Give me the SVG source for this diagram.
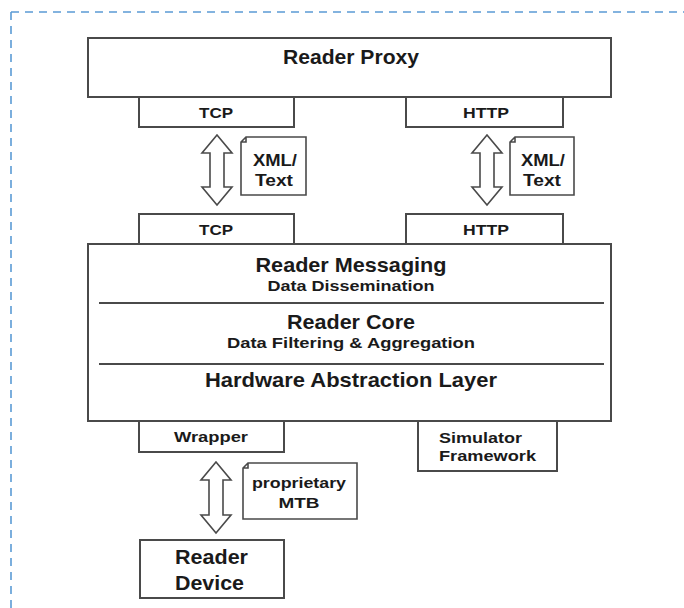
<svg xmlns="http://www.w3.org/2000/svg" width="684" height="608" viewBox="0 0 684 608">
<style>
.box{fill:#fff;stroke:#4a4a4a;stroke-width:2}
.ln{stroke:#4a4a4a;stroke-width:2;fill:none}
.t{font-family:"Liberation Sans",Arial,sans-serif;font-weight:bold;fill:#1a1a1a;text-anchor:middle}
.big{font-size:20.5px}
.sm{font-size:15px}
.md{font-size:15.5px}
.nt{font-size:16.5px}
.arrow{fill:#fff;stroke:#4a4a4a;stroke-width:1.6;stroke-linejoin:miter}
.note{fill:#fff;stroke:#4a4a4a;stroke-width:1.6}
</style>
<rect width="684" height="608" fill="#fff"/>
<g id="frame">
<path d="M11,12 H684 M11,12 V608" stroke="#5b9bd5" stroke-width="1.6" stroke-dasharray="8,6" fill="none"/>
</g>
<g id="reader-proxy">
<rect class="box" x="88" y="38" width="523" height="59"/>
<text class="t big" x="351" y="64" textLength="136" lengthAdjust="spacingAndGlyphs">Reader Proxy</text>
</g>
<g id="tcp-top">
<rect class="box" x="139" y="97" width="155" height="30"/>
<text class="t sm" x="216" y="118" textLength="34" lengthAdjust="spacingAndGlyphs">TCP</text>
</g>
<g id="http-top">
<rect class="box" x="406" y="97" width="157" height="30"/>
<text class="t sm" x="486" y="118" textLength="46" lengthAdjust="spacingAndGlyphs">HTTP</text>
</g>
<g id="connectors">
<path class="arrow" d="M217,135 L232,153 L224,153 L224,187 L232,187 L217,205 L202,187 L210,187 L210,153 L202,153 Z"/>
<path class="arrow" d="M487,135 L502,153 L494,153 L494,187 L502,187 L487,205 L472,187 L480,187 L480,153 L472,153 Z"/>
<path class="arrow" d="M216,462 L231,480 L223,480 L223,515 L231,515 L216,533 L201,515 L209,515 L209,480 L201,480 Z"/>
</g>
<g id="note-xml-left">
<path class="note" d="M246,137 H306 V195 H241 V142 Z M241,142 H246 V137"/>
<text class="t nt" x="275" y="166" textLength="44" lengthAdjust="spacingAndGlyphs">XML/</text>
<text class="t nt" x="274" y="186" textLength="38" lengthAdjust="spacingAndGlyphs">Text</text>
</g>
<g id="note-xml-right">
<path class="note" d="M515,137 H574 V195 H510 V142 Z M510,142 H515 V137"/>
<text class="t nt" x="543" y="166" textLength="44" lengthAdjust="spacingAndGlyphs">XML/</text>
<text class="t nt" x="542" y="186" textLength="38" lengthAdjust="spacingAndGlyphs">Text</text>
</g>
<g id="tcp-bottom">
<rect class="box" x="139" y="214" width="155" height="30"/>
<text class="t sm" x="216" y="235" textLength="34" lengthAdjust="spacingAndGlyphs">TCP</text>
</g>
<g id="http-bottom">
<rect class="box" x="406" y="214" width="157" height="30"/>
<text class="t sm" x="486" y="235" textLength="46" lengthAdjust="spacingAndGlyphs">HTTP</text>
</g>
<g id="reader-stack">
<rect class="box" x="88" y="244" width="523" height="177"/>
<line class="ln" x1="99" y1="303" x2="604" y2="303"/>
<line class="ln" x1="99" y1="364" x2="604" y2="364"/>
<text class="t big" x="351" y="272" textLength="191" lengthAdjust="spacingAndGlyphs">Reader Messaging</text>
<text class="t sm" x="351" y="291" textLength="167" lengthAdjust="spacingAndGlyphs">Data Dissemination</text>
<text class="t big" x="351" y="329" textLength="128" lengthAdjust="spacingAndGlyphs">Reader Core</text>
<text class="t sm" x="351" y="348" textLength="248" lengthAdjust="spacingAndGlyphs">Data Filtering &amp; Aggregation</text>
<text class="t big" x="351" y="387" textLength="292" lengthAdjust="spacingAndGlyphs">Hardware Abstraction Layer</text>
</g>
<g id="wrapper">
<rect class="box" x="139" y="421" width="145" height="31"/>
<text class="t sm" x="211" y="442" textLength="74" lengthAdjust="spacingAndGlyphs">Wrapper</text>
</g>
<g id="simulator-framework">
<rect class="box" x="418" y="421" width="139" height="50"/>
<text class="t md" x="439" y="443" style="text-anchor:start" textLength="83" lengthAdjust="spacingAndGlyphs">Simulator</text>
<text class="t md" x="439" y="461" style="text-anchor:start" textLength="97" lengthAdjust="spacingAndGlyphs">Framework</text>
</g>
<g id="note-mtb">
<path class="note" d="M248,463 H357 V519 H243 V468 Z M243,468 H248 V463"/>
<text class="t sm" x="299" y="488" textLength="94" lengthAdjust="spacingAndGlyphs">proprietary</text>
<text class="t sm" x="299" y="508" textLength="41" lengthAdjust="spacingAndGlyphs">MTB</text>
</g>
<g id="reader-device">
<rect class="box" x="140" y="540" width="144" height="58"/>
<text class="t" x="175" y="564" style="text-anchor:start;font-size:20.5px" textLength="73" lengthAdjust="spacingAndGlyphs">Reader</text>
<text class="t" x="175" y="590" style="text-anchor:start;font-size:20.5px" textLength="69" lengthAdjust="spacingAndGlyphs">Device</text>
</g>
</svg>
